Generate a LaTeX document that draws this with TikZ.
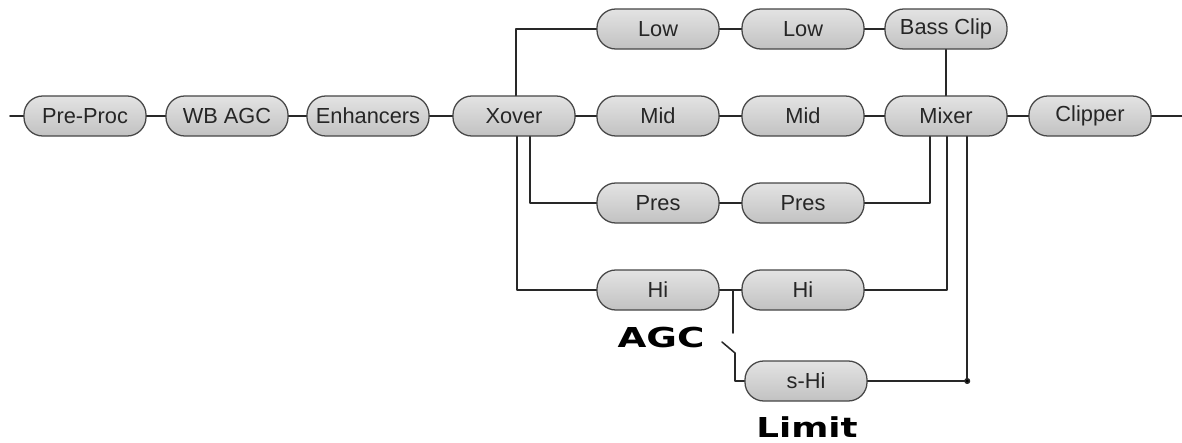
\documentclass[tikz,border=0pt]{standalone}
\usepackage{fontspec}
\setmainfont{Liberation Sans}
\newfontfamily\lblfont{DejaVu Sans}
\usepackage{graphicx}
\usepackage{xcolor}
\usepackage{tikz}
\usetikzlibrary{positioning,calc}

\definecolor{boxgray}{RGB}{204,204,204}
\definecolor{boxedge}{RGB}{70,70,70}
\definecolor{wire}{RGB}{40,40,40}

\begin{document}
\begin{tikzpicture}[x=0.025cm, y=-0.025cm, line cap=round, line join=round]
				\useasboundingbox (0,0) rectangle (1182,442);
				% ---- styles ----
				\tikzset{blk/.style={rectangle, rounded corners=0.47cm, draw=boxedge, line width=0.9pt,
						top color=boxgray!55, bottom color=boxgray!95!black,
						minimum width=3.05cm, minimum height=1.0cm, inner sep=1pt,
						font=\fontsize{15.5}{18}\selectfont, text=black!85},
					wire/.style={draw=wire, line width=1.1pt},
					lbl/.style={font=\lblfont\bfseries\fontsize{19.5}{22}\selectfont, inner sep=0pt}}
				
				% ---- main chain ----
				\node[blk] (pre)   at (85,116)   {Pre-Proc};
				\node[blk] (wbagc) at (227,116)  {WB AGC};
				\node[blk] (enh)   at (368,116)  {Enhancers};
				\node[blk] (xover) at (514,116)  {Xover};
				\node[blk] (mid1)  at (658,116)  {Mid};
				\node[blk] (mid2)  at (803,116)  {Mid};
				\node[blk] (mixer) at (946,116)  {Mixer};
				\node[blk] (clip)  at (1090,116) {Clipper};
				
				% ---- bands ----
				\node[blk] (low1)  at (658,29)   {Low};
				\node[blk] (low2)  at (803,29)   {Low};
				\node[blk] (bass)  at (946,29)   {Bass Clip};
				\node[blk] (pres1) at (658,203)  {Pres};
				\node[blk] (pres2) at (803,203)  {Pres};
				\node[blk] (hi1)   at (658,290)  {Hi};
				\node[blk] (hi2)   at (803,290)  {Hi};
				\node[blk] (shi)   at (806,381)  {s-Hi};
				
				% ---- labels ----
				\node[lbl] (agc)   at (661,338)  {\scalebox{1.36}[1]{AGC}};
				\node[lbl] (limit) at (807,427)  {\scalebox{1.3}[1]{Limit}};
				
				% ---- free ends and switch ----
				\coordinate (in)  at (10,116);
				\coordinate (out) at (1182,116);
				\coordinate (tap)    at (733,290);
				\coordinate (tapend) at (733,333);
				\coordinate (swtip)  at (722,342);
				\coordinate (swpiv)  at (735,353);
				\coordinate (shijoin) at ([xshift=0.53cm]mixer.south |- shi);
				
				% ---- wires ----
				\draw[wire] (in) -- (pre) -- (wbagc) -- (enh) -- (xover) -- (mid1) -- (mid2) -- (mixer) -- (clip) -- (out);
				\draw[wire] (low1) -- (low2) -- (bass);
				\draw[wire] (pres1) -- (pres2);
				\draw[wire] (hi1) -- (hi2);
				\draw[wire] (bass) -- (mixer);
				
				\draw[wire] ([xshift=0.05cm]xover.north) |- (low1);
				\draw[wire] ([xshift=0.08cm]xover.south) |- (hi1);
				\draw[wire] ([xshift=0.4cm]xover.south) |- (pres1);
				
				\draw[wire] (pres2) -| ([xshift=-0.4cm]mixer.south);
				\draw[wire] (hi2) -| ([xshift=0.03cm]mixer.south);
				\draw[wire] (shi) -- (shijoin) -- ([xshift=0.53cm]mixer.south);
				\fill[wire] (shijoin) circle (1.6pt);
				
				\draw[wire] (tap) -- (tapend);
				\draw[wire] (swtip) -- (swpiv) |- (shi);
			\end{tikzpicture}
\end{document}
